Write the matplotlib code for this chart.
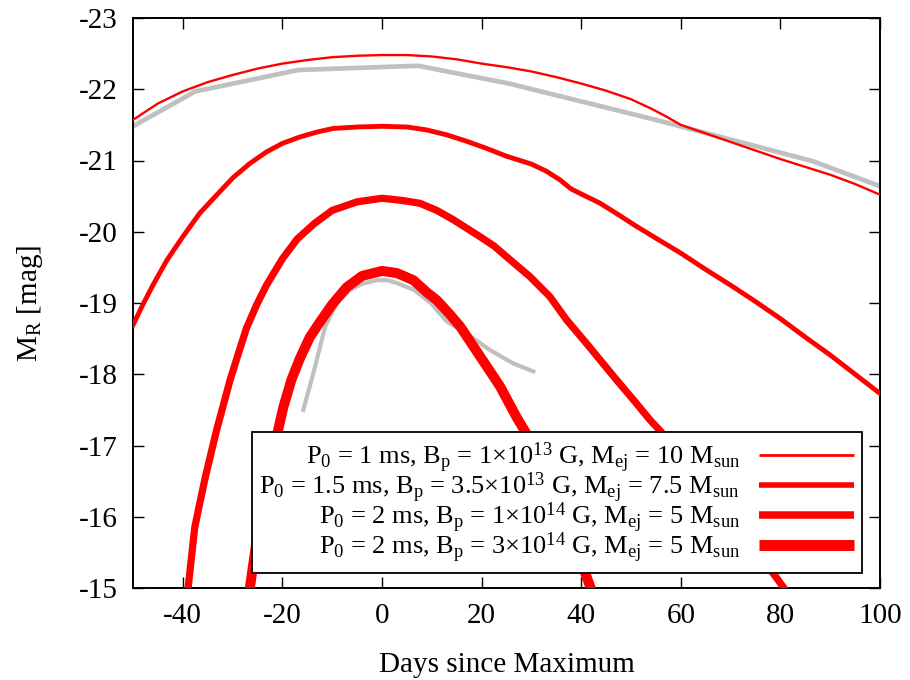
import matplotlib
matplotlib.use("Agg")
import matplotlib.pyplot as plt

plt.rcParams['font.family'] = ['Liberation Serif', 'DejaVu Serif']
plt.rcParams['mathtext.fontset'] = 'custom'
plt.rcParams['mathtext.rm'] = 'Liberation Serif'
plt.rcParams['mathtext.it'] = 'Liberation Serif:italic'
plt.rcParams['mathtext.bf'] = 'Liberation Serif:bold'
plt.rcParams['axes.unicode_minus'] = False

# ---- data (days since maximum, R-band absolute magnitude) ----
obs1_days = [-50, -37.5, -16.8, 7.2, 25.5, 55, 86.5, 100]
obs1_mag = [-21.48, -21.97, -22.27, -22.33, -22.08, -21.57, -20.99, -20.64]

obs2_days = [-15.8, -13.8, -11.4, -9.1, -6.5, -4.0, -1.0, 1.0, 3.0, 6.5, 9.8, 13.0, 17.0,
             21.7, 26.4, 30.4]
obs2_mag = [-17.50, -18.01, -18.67, -19.00, -19.18, -19.27, -19.32, -19.32, -19.28, -19.18,
            -19.00, -18.74, -18.57, -18.34, -18.15, -18.04]

m1_days = [-50, -45, -40, -35, -30, -25, -20, -15, -10, -5, 0, 5, 10, 15, 20, 25, 30, 35,
           40, 45, 50, 54, 57, 60, 65, 70, 75, 80, 85, 90, 95, 100]
m1_mag = [-21.57, -21.80, -21.97, -22.10, -22.20, -22.29, -22.36, -22.41, -22.45, -22.47,
          -22.48, -22.48, -22.46, -22.42, -22.36, -22.31, -22.25, -22.17, -22.08, -21.98,
          -21.86, -21.73, -21.62, -21.50, -21.38, -21.26, -21.14, -21.02, -20.91, -20.80,
          -20.67, -20.52]

m2_days = [-50, -48, -46, -43.2, -40, -36.6, -33, -29.9, -26.5, -23.2, -20, -16.5, -13,
           -9.8, -5, 0, 5, 8.9, 13, 17, 21, 25, 30, 33, 35.7, 38, 40, 43.8, 47, 51, 55, 60,
           65, 70, 75, 80, 85, 90, 95, 100]
m2_mag = [-18.69, -18.98, -19.25, -19.60, -19.93, -20.26, -20.53, -20.76, -20.96, -21.12,
          -21.24, -21.33, -21.40, -21.45, -21.47, -21.48, -21.47, -21.43, -21.36, -21.27,
          -21.17, -21.06, -20.95, -20.85, -20.73, -20.60, -20.53, -20.40, -20.26, -20.08,
          -19.91, -19.70, -19.47, -19.25, -19.02, -18.78, -18.52, -18.27, -18.00, -17.73]

m3_days = [-39.5, -38.9, -37.6, -36.5, -35.5, -33.2, -30.5, -28.8, -27.2, -25.2, -23.2, -20,
           -17, -13.5, -10, -5, 0, 4, 7.6, 11, 14.3, 17, 19.7, 22.5, 25, 29.7, 33.7, 37.1,
           41.1, 43.8, 47.1, 50.5, 53.8, 57, 61, 65, 69, 72.5, 76.5, 80.5, 82]
m3_mag = [-14.70, -15.02, -15.85, -16.22, -16.55, -17.22, -17.92, -18.30, -18.65, -18.97,
          -19.25, -19.62, -19.90, -20.12, -20.30, -20.42, -20.47, -20.44, -20.40, -20.30,
          -20.17, -20.05, -19.93, -19.80, -19.65, -19.37, -19.09, -18.76, -18.43, -18.20,
          -17.92, -17.64, -17.36, -17.12, -16.80, -16.45, -16.10, -15.78, -15.40, -15.02,
          -14.87]

m4_days = [-27.0, -26.5, -25.3, -24.2, -22.1, -19.8, -18.2, -16.5, -14.5, -12.4, -10, -7.1,
           -4, 0, 3, 6.3, 9, 11, 13.5, 15.7, 17.7, 19.7, 21.7, 23.7, 27, 29.4, 32, 35, 38,
           41.8, 42.5]
m4_mag = [-14.70, -15.02, -15.60, -16.14, -16.84, -17.54, -17.92, -18.22, -18.52, -18.74,
          -18.98, -19.22, -19.38, -19.45, -19.42, -19.32, -19.15, -19.04, -18.85, -18.67,
          -18.46, -18.25, -18.04, -17.83, -17.40, -17.12, -16.74, -16.26, -15.74, -15.02,
          -14.88]

labels = [
    r'P$_0$ = 1 ms, B$_\mathrm{p}$ = 1$\times$10$^{13}$ G, M$_\mathrm{ej}$ = 10 M$_\mathrm{sun}$',
    r'P$_0$ = 1.5 ms, B$_\mathrm{p}$ = 3.5$\times$10$^{13}$ G, M$_\mathrm{ej}$ = 7.5 M$_\mathrm{sun}$',
    r'P$_0$ = 2 ms, B$_\mathrm{p}$ = 1$\times$10$^{14}$ G, M$_\mathrm{ej}$ = 5 M$_\mathrm{sun}$',
    r'P$_0$ = 2 ms, B$_\mathrm{p}$ = 3$\times$10$^{14}$ G, M$_\mathrm{ej}$ = 5 M$_\mathrm{sun}$',
]
xticks = [-40, -20, 0, 20, 40, 60, 80, 100]
yticks = [-23, -22, -21, -20, -19, -18, -17, -16, -15]

# ---- figure ----
fig = plt.figure(figsize=(9.1, 6.8), dpi=100)
ax = fig.add_axes([133 / 910, 1 - 588 / 680, 747 / 910, 570 / 680])

gray = '#c0c0c0'
red = '#ff0000'
ax.plot(obs1_days, obs1_mag, color=gray, lw=3.4, solid_joinstyle='round', zorder=2)
ax.plot(obs2_days, obs2_mag, color=gray, lw=3.0, solid_joinstyle='round', zorder=2)

widths = [1.7, 3.5, 5.2, 7.2]
series = [(m1_days, m1_mag), (m2_days, m2_mag), (m3_days, m3_mag), (m4_days, m4_mag)]
handles = []
for (d, m), w, lab in zip(series, widths, labels):
    h, = ax.plot(d, m, color=red, lw=w, solid_joinstyle='round', zorder=3, label=lab)
    handles.append(h)

ax.set_xlim(-50, 100)
ax.set_ylim(-15, -23)
ax.set_xticks(xticks)
ax.set_yticks(yticks)
ax.set_xticklabels([str(v) for v in xticks])
ax.set_yticklabels([str(v) for v in yticks])
ax.tick_params(direction='in', length=8, width=1.0, top=True, right=True,
               labelsize=21)
ax.tick_params(axis='x', pad=11)
ax.tick_params(axis='y', pad=11)
for s in ax.spines.values():
    s.set_linewidth(1.4)

ax.set_xlabel('Days since Maximum', fontsize=21, labelpad=16)
ax.set_ylabel(r'M$_\mathrm{R}$ [mag]', fontsize=21)
ax.yaxis.set_label_coords(-0.118, 0.5)

leg = ax.legend(handles=handles, loc='lower right',
                bbox_to_anchor=((862 - 133) / 747, (588 - 573) / 570),
                borderaxespad=0, markerfirst=False, fancybox=False, framealpha=1,
                edgecolor='black', fontsize=19, handlelength=3.6, handletextpad=0.72,
                labelspacing=-0.17, borderpad=0.3)
leg.get_frame().set_linewidth(1.3)
for lh, w in zip(leg.get_lines(), [2.0, 4.0, 5.4, 7.9]):
    lh.set_linewidth(w)
    lh.set_solid_capstyle('butt')

fig.savefig('out.png', dpi=100)
